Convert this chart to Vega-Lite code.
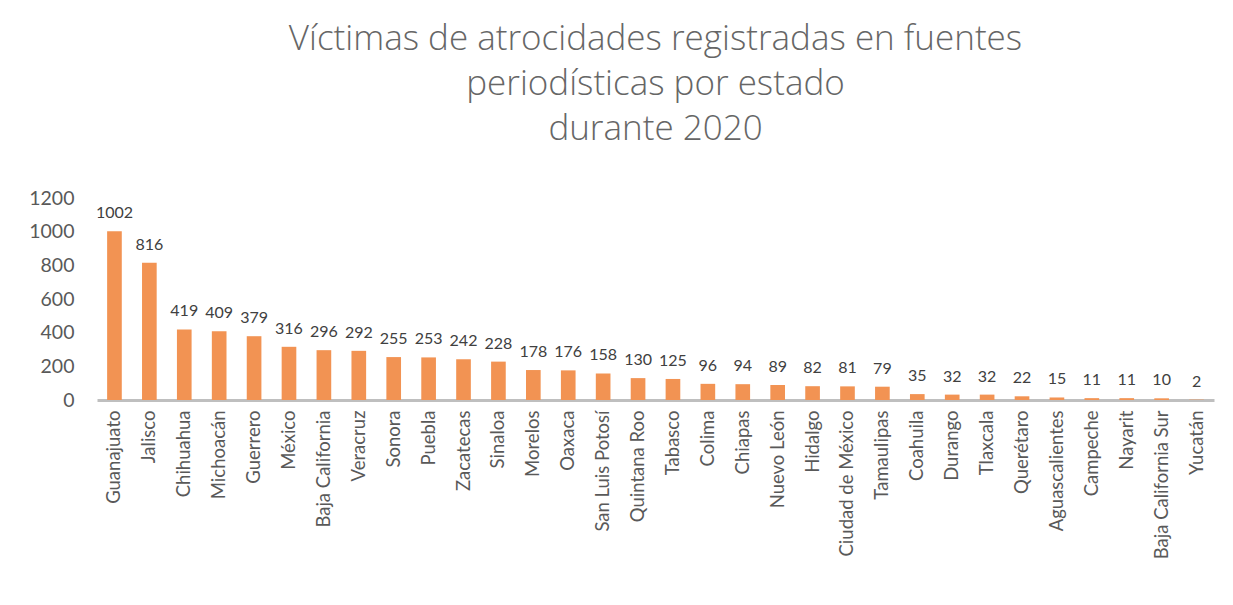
{
  "$schema": "https://vega.github.io/schema/vega-lite/v6.json",
  "width": 1117,
  "height": 202,
  "autosize": {"type": "none"},
  "padding": {"left": 97, "top": 198, "right": 19, "bottom": 205},
  "background": "white",
  "title": {
    "text": ["Víctimas de atrocidades registradas en fuentes", "periodísticas por estado", "durante 2020"],
    "font": "Open Sans",
    "fontSize": 35,
    "fontWeight": 300,
    "color": "#666666",
    "lineHeight": 45,
    "anchor": "middle",
    "offset": 41
  },
  "config": {
    "view": {"stroke": null},
    "font": "Lato"
  },
  "data": {
    "values": [
      {"estado": "Guanajuato", "victimas": 1002},
      {"estado": "Jalisco", "victimas": 816},
      {"estado": "Chihuahua", "victimas": 419},
      {"estado": "Michoacán", "victimas": 409},
      {"estado": "Guerrero", "victimas": 379},
      {"estado": "México", "victimas": 316},
      {"estado": "Baja California", "victimas": 296},
      {"estado": "Veracruz", "victimas": 292},
      {"estado": "Sonora", "victimas": 255},
      {"estado": "Puebla", "victimas": 253},
      {"estado": "Zacatecas", "victimas": 242},
      {"estado": "Sinaloa", "victimas": 228},
      {"estado": "Morelos", "victimas": 178},
      {"estado": "Oaxaca", "victimas": 176},
      {"estado": "San Luis Potosí", "victimas": 158},
      {"estado": "Quintana Roo", "victimas": 130},
      {"estado": "Tabasco", "victimas": 125},
      {"estado": "Colima", "victimas": 96},
      {"estado": "Chiapas", "victimas": 94},
      {"estado": "Nuevo León", "victimas": 89},
      {"estado": "Hidalgo", "victimas": 82},
      {"estado": "Ciudad de México", "victimas": 81},
      {"estado": "Tamaulipas", "victimas": 79},
      {"estado": "Coahuila", "victimas": 35},
      {"estado": "Durango", "victimas": 32},
      {"estado": "Tlaxcala", "victimas": 32},
      {"estado": "Querétaro", "victimas": 22},
      {"estado": "Aguascalientes", "victimas": 15},
      {"estado": "Campeche", "victimas": 11},
      {"estado": "Nayarit", "victimas": 11},
      {"estado": "Baja California Sur", "victimas": 10},
      {"estado": "Yucatán", "victimas": 2}
    ]
  },
  "encoding": {
    "x": {
      "field": "estado",
      "type": "nominal",
      "sort": null,
      "scale": {"paddingInner": 0.58, "paddingOuter": 0.29},
      "axis": {
        "title": null,
        "labelAngle": -90,
        "labelFontSize": 18.5,
        "labelColor": "#595959",
        "labelFont": "Lato",
        "labelPadding": 10,
        "ticks": false,
        "domainColor": "#bfbfbf",
        "domainWidth": 3,
        "labelLimit": 300
      }
    },
    "y": {
      "field": "victimas",
      "type": "quantitative",
      "scale": {"domain": [0, 1200]},
      "axis": {
        "title": null,
        "values": [0, 200, 400, 600, 800, 1000, 1200],
        "format": "d",
        "grid": false,
        "domain": false,
        "ticks": false,
        "labelFontSize": 19.5,
        "labelColor": "#595959",
        "labelFont": "Lato",
        "labelPadding": 23
      }
    }
  },
  "layer": [
    {
      "mark": {"type": "bar", "color": "#F29353"}
    },
    {
      "mark": {"type": "text", "baseline": "bottom", "dy": -10, "fontSize": 16, "color": "#404040", "font": "Lato"},
      "encoding": {"text": {"field": "victimas", "type": "quantitative"}}
    }
  ]
}
